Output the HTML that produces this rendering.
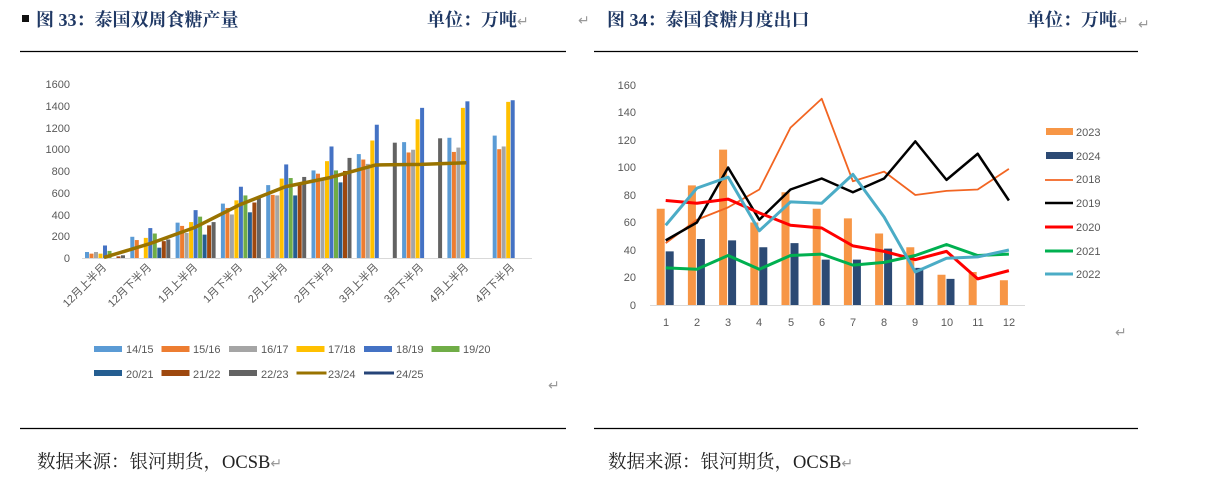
<!DOCTYPE html>
<html><head><meta charset="utf-8"><style>
html,body{margin:0;padding:0;background:#fff;width:1212px;height:487px;overflow:hidden}
svg{display:block}
.t{font-family:"Liberation Serif","Noto Serif CJK SC",serif;font-weight:bold;fill:#1F3864;font-size:18px}
.s{font-family:"Liberation Serif","Noto Serif CJK SC",serif;fill:#222;font-size:18.5px}
.a{font-family:"Liberation Sans","Noto Sans CJK SC",sans-serif;fill:#595959;font-size:11px}
.r{fill:#999;font-family:"Liberation Sans",sans-serif;font-size:14px;font-weight:normal}
</style></head><body>
<svg id="s" width="1212" height="487" xmlns="http://www.w3.org/2000/svg">
<rect x="22" y="15" width="7" height="7" fill="#111"/>
<text class="t" x="36" y="26">图 33：泰国双周食糖产量</text>
<text class="t" x="427" y="26">单位：万吨<tspan class="r">↵</tspan></text>
<text class="r" x="578" y="25">↵</text>
<text class="t" x="607" y="26">图 34：泰国食糖月度出口</text>
<text class="t" x="1027" y="26">单位：万吨<tspan class="r">↵</tspan></text><text class="r" x="1138" y="29">↵</text>
<line x1="20" y1="51.5" x2="566" y2="51.5" stroke="#000" stroke-width="1.3"/>
<line x1="594" y1="51.5" x2="1138" y2="51.5" stroke="#000" stroke-width="1.3"/>
<line x1="20" y1="428.5" x2="566" y2="428.5" stroke="#000" stroke-width="1.3"/>
<line x1="594" y1="428.5" x2="1138" y2="428.5" stroke="#000" stroke-width="1.3"/>
<text class="s" x="37" y="468">数据来源：银河期货，OCSB<tspan class="r">↵</tspan></text>
<text class="s" x="608" y="468">数据来源：银河期货，OCSB<tspan class="r">↵</tspan></text>
<text class="r" x="548" y="390">↵</text><text class="r" x="1115" y="337">↵</text>
<g class="a" text-anchor="end">
<text x="70" y="262">0</text><text x="70" y="240">200</text><text x="70" y="219">400</text><text x="70" y="197">600</text><text x="70" y="175">800</text><text x="70" y="153">1000</text><text x="70" y="132">1200</text><text x="70" y="110">1400</text><text x="70" y="88">1600</text>
</g>
<line x1="82" y1="258.5" x2="532" y2="258.5" stroke="#d9d9d9"/>
<g class="a" text-anchor="end">
<text transform="translate(107,268) rotate(-45)">12月上半月</text>
<text transform="translate(152,268) rotate(-45)">12月下半月</text>
<text transform="translate(198,268) rotate(-45)">1月上半月</text>
<text transform="translate(243,268) rotate(-45)">1月下半月</text>
<text transform="translate(288,268) rotate(-45)">2月上半月</text>
<text transform="translate(334,268) rotate(-45)">2月下半月</text>
<text transform="translate(379,268) rotate(-45)">3月上半月</text>
<text transform="translate(424,268) rotate(-45)">3月下半月</text>
<text transform="translate(469,268) rotate(-45)">4月上半月</text>
<text transform="translate(515,268) rotate(-45)">4月下半月</text>
</g>
<g class="a" font-size="12">
<text x="126" y="353">14/15</text><text x="193" y="353">15/16</text><text x="261" y="353">16/17</text><text x="328" y="353">17/18</text><text x="396" y="353">18/19</text><text x="463" y="353">19/20</text>
<text x="126" y="378">20/21</text><text x="193" y="378">21/22</text><text x="261" y="378">22/23</text><text x="328" y="378">23/24</text><text x="396" y="378">24/25</text>
</g>
<g class="a" text-anchor="end">
<text x="636" y="309">0</text><text x="636" y="281">20</text><text x="636" y="254">40</text><text x="636" y="226">60</text><text x="636" y="199">80</text><text x="636" y="171">100</text><text x="636" y="144">120</text><text x="636" y="116">140</text><text x="636" y="89">160</text>
</g>
<line x1="650" y1="305.5" x2="1025" y2="305.5" stroke="#d9d9d9"/>
<g class="a" text-anchor="middle">
<text x="666" y="326">1</text><text x="697" y="326">2</text><text x="728" y="326">3</text><text x="759" y="326">4</text><text x="791" y="326">5</text><text x="822" y="326">6</text><text x="853" y="326">7</text><text x="884" y="326">8</text><text x="915" y="326">9</text><text x="947" y="326">10</text><text x="978" y="326">11</text><text x="1009" y="326">12</text>
</g>
<g class="a">
<text x="1076" y="136">2023</text><text x="1076" y="160">2024</text><text x="1076" y="183">2018</text><text x="1076" y="207">2019</text><text x="1076" y="231">2020</text><text x="1076" y="255">2021</text><text x="1076" y="278">2022</text>
</g>
<g id="g"></g>
</svg>
<script>
var g=document.getElementById('g'),o='';
function R(x,y,w,h,c){o+='<rect x="'+x+'" y="'+y+'" width="'+w+'" height="'+h+'" fill="'+c+'"/>';}
function P(pts,c,w){o+='<polyline points="'+pts.join(' ')+'" fill="none" stroke="'+c+'" stroke-width="'+w+'" stroke-linejoin="round"/>';}
var C=['#5B9BD5','#ED7D31','#A5A5A5','#FFC000','#4472C4','#70AD47','#255E91','#9E480E','#636363'];
var D=[[55,40,55,40,115,65,0,15,25],[195,165,0,185,275,225,95,155,170],[325,295,230,330,440,380,215,300,330],[500,460,400,530,655,575,420,510,550],[670,580,575,730,860,735,575,690,745],[805,775,720,890,1025,805,695,800,920],[955,905,865,1080,1225,0,0,0,1060],[1065,970,995,1275,1380,0,0,0,1100],[1105,975,1015,1380,1440,0,0,0,0],[1125,1000,1025,1435,1450,0,0,0,0]];
var k=0.1088;
D.forEach(function(r,gi){r.forEach(function(v,i){if(v>0){var h=v*k;R(85+gi*45.3+i*4.5,258-h,4,h,C[i]);}});});
var L=[5,130,280,490,655,740,855,860,875],pts=[];
L.forEach(function(v,i){pts.push((104+i*45.3)+','+(258-v*k));});
P(pts,'#997300',3.5);
var LC=C.concat(['#997300','#264478']);
for(var i=0;i<11;i++){var row=i<6?0:1,col=i<6?i:i-6,x=94+col*67.5,y=row?373:349;
if(i<9)R(x,y-3,28,6,LC[i]);else{o+='<line x1="'+x+'" y1="'+y+'" x2="'+(x+30)+'" y2="'+y+'" stroke="'+LC[i]+'" stroke-width="3"/>';}}
var s=1.375,b=305;function X(i){return 665.7+i*31.2;}
var a23=[70,87,113,60,82,70,63,52,42,22,24,18],a24=[39,48,47,42,45,33,33,41,27,19];
a23.forEach(function(v,i){R(X(i)-9,b-v*s,8,v*s,'#F79646');});
a24.forEach(function(v,i){R(X(i),b-v*s,8,v*s,'#2C4A74');});
var S=[[[45,62,71,84,129,150,90,97,80,83,84,99],'#F26522',1.8],[[47,60,100,62,84,92,82,92,119,91,110,76],'#000',2.5],[[76,74,77,67,58,56,43,39,33,39,19,25],'#FF0000',3],[[27,26,36,26,36,37,29,31,36,44,36,37],'#00B050',3],[[58,85,93,54,75,74,95,64,24,34,35,40],'#4BACC6',3]];
S.forEach(function(q){P(q[0].map(function(v,i){return X(i)+','+(b-v*s);}),q[1],q[2]);});
R(1046,128,27,7,'#F79646');R(1046,152,27,7,'#2C4A74');
var ly=[180,203,227,251,274];
S.forEach(function(q,i){o+='<line x1="1045" y1="'+ly[i]+'" x2="1073" y2="'+ly[i]+'" stroke="'+q[1]+'" stroke-width="'+q[2]+'"/>';});
g.innerHTML=o;
</script>
</body></html>
